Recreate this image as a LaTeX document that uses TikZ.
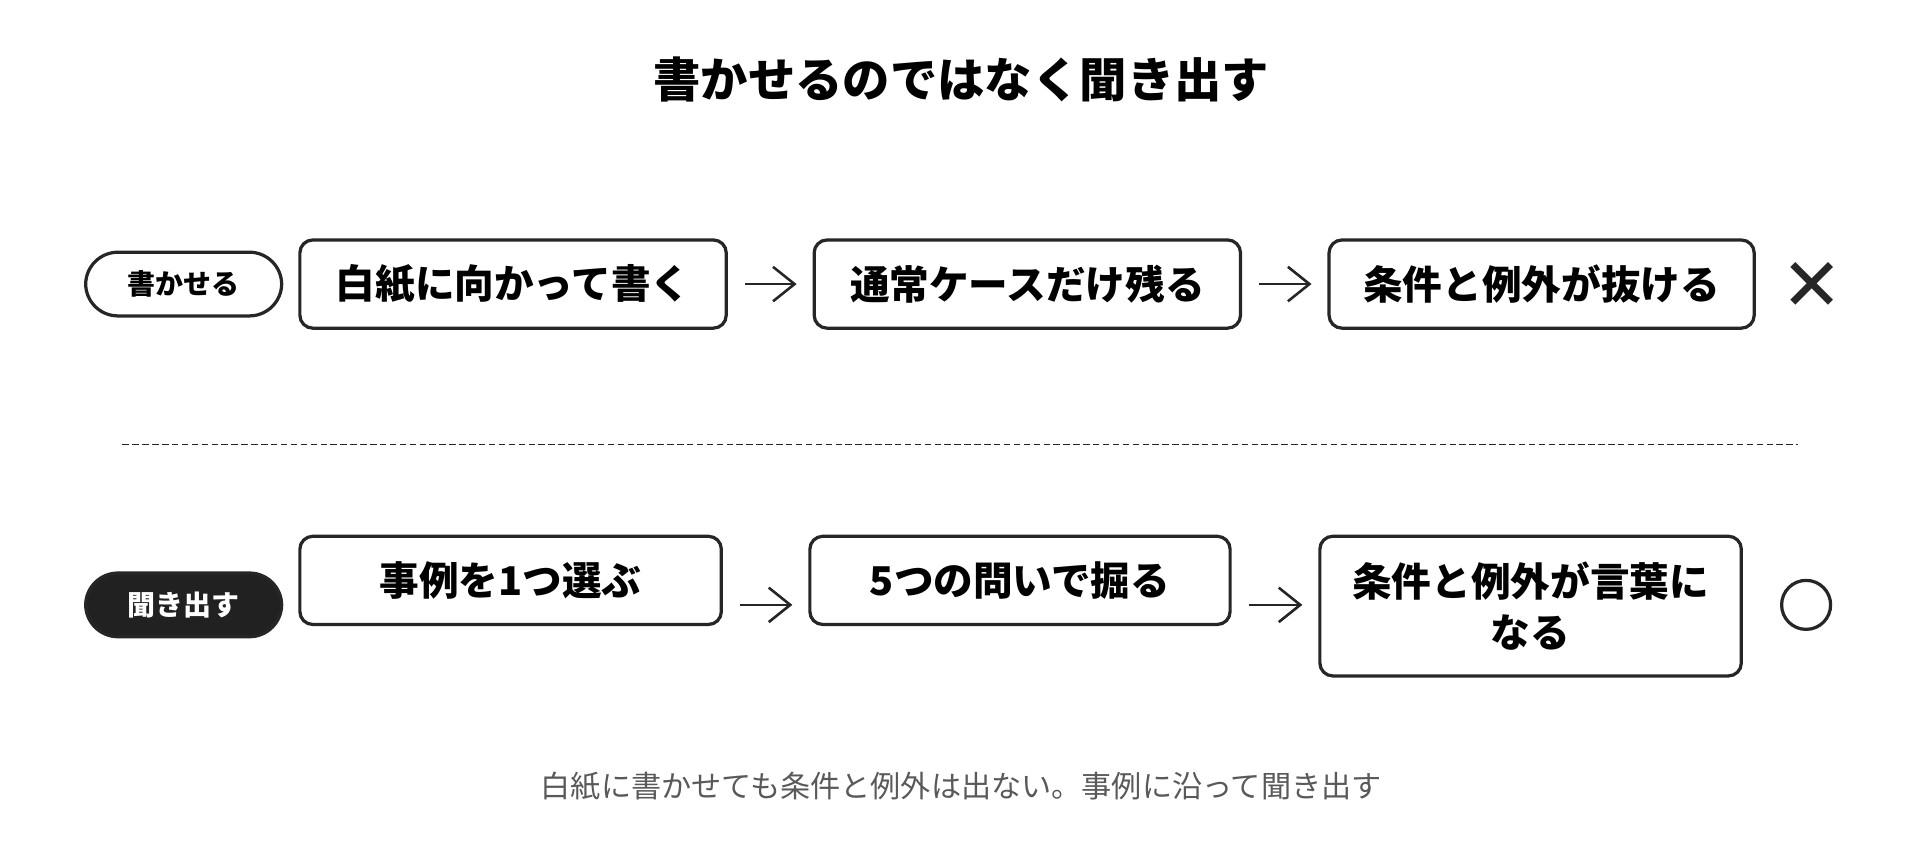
\documentclass[tikz,border=0pt]{standalone}
\usepackage{fontspec}
\setmainfont{Noto Sans CJK JP}
\newfontfamily\symfont{DejaVu Sans}
\usetikzlibrary{arrows.meta}
\begin{document}
\begin{tikzpicture}[x=0.01cm,y=-0.01cm, every text node part/.style={align=center}]
        \tikzset{
          stage/.style={draw=black!85, line width=0.75pt, rounded corners=3pt, font=\fontsize{9.2}{12}\selectfont\bfseries, inner sep=0pt},
          tag/.style={draw=black!85, line width=0.75pt, rounded corners=7.5pt, minimum width=1.6cm, minimum height=0.52cm, font=\fontsize{6.5}{8}\selectfont\bfseries, inner sep=0pt},
          flow/.style={-{Straight Barb[length=5pt,width=8pt]}, line width=0.6pt, black!85, shorten <=0.14cm, shorten >=0.13cm},
        }
        \useasboundingbox (0,0) rectangle (1568,692);
        \node [font=\fontsize{11}{13}\selectfont\bfseries](title) at (785,65) {書かせるのではなく聞き出す};
        %
        \node [tag](write) at (150,232) {書かせる};
        \node [stage, minimum width=3.48cm, minimum height=0.72cm](w1) at (419,232) {白紙に向かって書く};
        \node [stage, minimum width=3.48cm, minimum height=0.72cm](w2) at (839,232) {通常ケースだけ残る};
        \node [stage, minimum width=3.47cm, minimum height=0.72cm](w3) at (1259,232) {条件と例外が抜ける};
        \node [font=\symfont\fontsize{17}{17}\selectfont, text=black!85](ng) at (1480,234) {✕};
        \draw [flow] (w1) -- (w2);
        \draw [flow] (w2) -- (w3);
        %
        \coordinate (dl) at (100,363);
        \coordinate (dr) at (1468,363);
        \draw [dash pattern=on 1.5pt off 0.8pt, line width=0.45pt, black!85] (dl) -- (dr);
        %
        \node [tag, fill=black!87, text=white](ask) at (150,494) {聞き出す};
        \node [stage, minimum width=3.44cm, minimum height=0.72cm](a1) at (417,474) {事例を1つ選ぶ};
        \node [stage, minimum width=3.43cm, minimum height=0.72cm](a2) at (833,474) {5つの問いで掘る};
        \node [stage, minimum width=3.44cm, minimum height=1.14cm](a3) at (1250,495) {条件と例外が言葉に\\なる};
        \node [draw=black!85, line width=0.75pt, circle, minimum size=0.4cm, inner sep=0pt](ok) at (1475,494) {};
        \draw [flow] (a1.east |- ask) -- (a2.west |- ask);
        \draw [flow] (a2.east |- ask) -- (a3.west |- ask);
        %
        \node [font=\fontsize{7}{9}\selectfont, text=black!65](note) at (785,642) {白紙に書かせても条件と例外は出ない。事例に沿って聞き出す};
    \end{tikzpicture}
\end{document}
